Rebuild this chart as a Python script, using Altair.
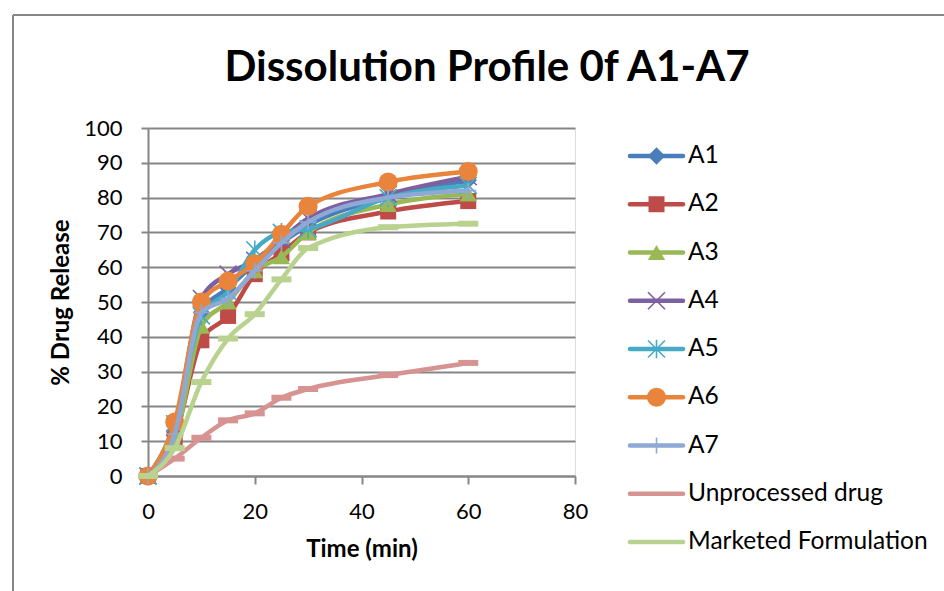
import altair as alt
import pandas as pd

# Sampling times (min)
time_min = [0, 5, 10, 15, 20, 25, 30, 45, 60]

# Cumulative % drug released for each batch
a1 = [0, 13, 47, 54, 61, 67, 72, 80, 85]
a2 = [0, 11, 39, 46, 58, 64, 70, 76, 79]
a3 = [0, 10, 43, 50, 59, 63, 70, 78, 81]
a4 = [0, 14, 51, 58, 62, 68, 74, 81, 86]
a5 = [0, 15, 46, 53, 65, 70, 71, 80, 83.5]
a6 = [0, 15.5, 50, 56, 61, 69.5, 77.5, 84.5, 87.5]
a7 = [0, 12, 47, 51, 59, 67, 73, 80, 82]
unprocessed = [0, 5, 11, 16, 18, 22.5, 25, 29, 32.5]
marketed = [0, 8, 27, 39.5, 46.5, 56.5, 65.5, 71.5, 72.5]

series_names = ["A1", "A2", "A3", "A4", "A5", "A6", "A7",
                "Unprocessed drug", "Marketed Formulation"]
series_values = [a1, a2, a3, a4, a5, a6, a7, unprocessed, marketed]
series_colors = ["#4A7EBB", "#BE4B48", "#98B954", "#7D60A0", "#46AAC5",
                 "#E8843C", "#8EA9D6", "#D69391", "#B9D290"]

chart_title = "Dissolution Profile 0f A1-A7"

# Marker symbols (custom paths are in unit coordinates)
X_PATH = "M-1,-1L1,1M-1,1L1,-1"
STAR_PATH = "M-1,-1L1,1M-1,1L1,-1M0,-1.1L0,1.1"
PLUS_PATH = "M0,-1L0,1M-1,0L1,0"
DASH_PATH = "M-1,-0.3L1,-0.3L1,0.3L-1,0.3Z"
markers = [
    dict(shape="diamond", size=300, filled=True),
    dict(shape="square", size=256, filled=True),
    dict(shape="triangle-up", size=300, filled=True),
    dict(shape=X_PATH, size=289, filled=False, strokeWidth=1.6),
    dict(shape=STAR_PATH, size=289, filled=False, strokeWidth=1.6),
    dict(shape="circle", size=361, filled=True),
    dict(shape=PLUS_PATH, size=256, filled=False, strokeWidth=1.6),
    dict(shape=DASH_PATH, size=400, filled=True),
    dict(shape=DASH_PATH, size=400, filled=True),
]

FONT = "Lato"
GRID = "#868686"
LINE_W = 4.5

rows = []
for name, vals in zip(series_names, series_values):
    for t, v in zip(time_min, vals):
        rows.append({"series": name, "time": t, "release": v})
df = pd.DataFrame(rows)

x_enc = alt.X(
    "time:Q",
    scale=alt.Scale(domain=[0, 80], nice=False, zero=True),
    axis=alt.Axis(
        values=[0, 20, 40, 60, 80], grid=False, title="Time (min)",
        domainColor=GRID, domainWidth=2, tickColor=GRID, tickWidth=2,
        tickSize=8, labelFont=FONT, labelFontSize=22, labelColor="black",
        labelPadding=17, labelFlush=False, titleFont=FONT, titleFontSize=24,
        titleFontWeight="bold", titleColor="black", titlePadding=15,
    ),
)
y_enc = alt.Y(
    "release:Q",
    scale=alt.Scale(domain=[0, 100], nice=False),
    axis=alt.Axis(
        values=list(range(0, 101, 10)), grid=True, gridColor=GRID,
        gridWidth=2, title="% Drug Release",
        domainColor=GRID, domainWidth=2, tickColor=GRID, tickWidth=2,
        tickSize=7, labelFont=FONT, labelFontSize=22, labelColor="black",
        labelPadding=19, labelFlush=False, titleFont=FONT, titleFontSize=24,
        titleFontWeight="bold", titleColor="black",
        titleX=-87, titleY=174, titleAlign="center", titleBaseline="middle",
    ),
)

main_layers = []
for name, color, mk in zip(series_names, series_colors, markers):
    sub = df[df["series"] == name]
    line = alt.Chart(sub).mark_line(
        color=color, strokeWidth=LINE_W, interpolate="monotone",
        strokeCap="round", strokeJoin="round",
    ).encode(x=x_enc, y=y_enc)
    pt_kwargs = dict(shape=mk["shape"], size=mk["size"], opacity=1)
    if mk["filled"]:
        pt_kwargs.update(filled=True, fill=color, strokeWidth=0)
    else:
        pt_kwargs.update(filled=False, stroke=color, strokeWidth=mk["strokeWidth"])
    pts = alt.Chart(sub).mark_point(**pt_kwargs).encode(x=x_enc, y=y_enc)
    main_layers += [line, pts]

main = alt.layer(*main_layers)

# Legend drawn as its own layer: one row per series
legend_y = alt.Y(
    "series:N",
    scale=alt.Scale(type="point", domain=series_names, range=[28, 414], padding=0),
    axis=None,
)
legend_layers = []
for name, color, mk in zip(series_names, series_colors, markers):
    one = pd.DataFrame({"series": [name]})
    legend_layers.append(
        alt.Chart(one).mark_rule(color=color, strokeWidth=LINE_W, strokeCap="round")
        .encode(x=alt.value(482), x2=alt.value(535), y=legend_y)
    )
    if mk["shape"] != DASH_PATH:
        pk = dict(shape=mk["shape"], size=mk["size"], opacity=1)
        if mk["filled"]:
            pk.update(filled=True, fill=color, strokeWidth=0)
        else:
            pk.update(filled=False, stroke=color, strokeWidth=mk["strokeWidth"])
        legend_layers.append(
            alt.Chart(one).mark_point(**pk).encode(x=alt.value(508.5), y=legend_y)
        )
    legend_layers.append(
        alt.Chart(one).mark_text(
            font=FONT, fontSize=24.5, align="left", baseline="middle", color="black"
        ).encode(x=alt.value(540), y=legend_y, text="series:N")
    )
legend = alt.layer(*legend_layers)

# Outer chart frame (left and top edges) and the heading
frame_df = pd.DataFrame({"k": [0]})
title_df = pd.DataFrame({"title": [chart_title]})
frame = alt.layer(
    alt.Chart(frame_df).mark_rule(color=GRID, strokeWidth=2).encode(
        x=alt.value(-135), y=alt.value(-113), y2=alt.value(470)),
    alt.Chart(frame_df).mark_rule(color=GRID, strokeWidth=2).encode(
        x=alt.value(-135), x2=alt.value(800), y=alt.value(-113)),
    alt.Chart(title_df).mark_text(
        font=FONT, fontSize=42, fontWeight="bold", color="black",
        align="center", baseline="alphabetic",
    ).encode(x=alt.value(339), y=alt.value(-47), text="title:N"),
)

chart = alt.layer(frame, main, legend).resolve_scale(y="independent").properties(
    width=427,
    height=348,
    autosize=alt.AutoSizeParams(type="none"),
    padding={"left": 148, "top": 128, "right": 369, "bottom": 115},
).configure_view(stroke=None).configure(background="white")

chart.save("out.html", embed_options={"renderer": "svg", "actions": False})
